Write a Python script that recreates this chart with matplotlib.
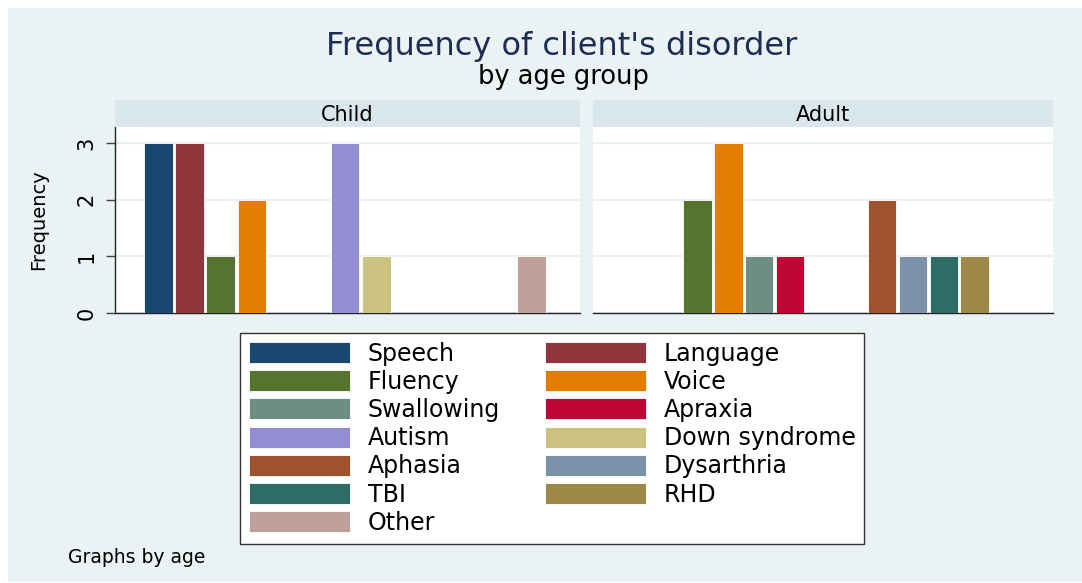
import numpy as np
import matplotlib.pyplot as plt
from matplotlib.patches import Patch, Rectangle

plt.rcParams['font.family'] = ['DejaVu Sans']

# disorder categories, in the order Stata lays out the bars
disorders = ["Speech", "Language", "Fluency", "Voice", "Swallowing", "Apraxia",
             "Autism", "Down syndrome", "Aphasia", "Dysarthria", "TBI", "RHD", "Other"]
child_freq = [3, 3, 1, 2, 0, 0, 3, 1, 0, 0, 0, 0, 1]
adult_freq = [0, 0, 2, 3, 1, 1, 0, 0, 2, 1, 1, 1, 0]
groups = ["Child", "Adult"]

# Stata s2color palette
colors = ["#1a476f", "#90353b", "#55752f", "#e37e00", "#6e8e84", "#c10534",
          "#938dd2", "#cac27e", "#a0522d", "#7b92a8", "#2d6d66", "#9c8847", "#bfa19c"]

bg = "#eaf2f3"
strip_col = "#d9e6eb"
W, H = 1082, 583

fig = plt.figure(figsize=(10.82, 5.83), dpi=100, facecolor="white")
# graph region background (white margin at top/left like the export)
fig.patches.append(Rectangle((8 / W, 1 / H), 1 - 8 / W, 1 - 9 / H, transform=fig.transFigure,
                             facecolor=bg, edgecolor="none", zorder=-10))

panels = [(115, 580), (593, 1053)]
y_bot, y_top, strip_top = 313, 127, 100

x = np.arange(len(disorders))
for i, (grp, vals) in enumerate(zip(groups, [child_freq, adult_freq])):
    x0, x1 = panels[i]
    ax = fig.add_axes([x0 / W, 1 - y_bot / H, (x1 - x0) / W, (y_bot - y_top) / H])
    ax.set_facecolor("white")
    vals = np.array(vals)
    keep = vals > 0
    ax.bar(x[keep], vals[keep], width=0.92, color=np.array(colors)[keep],
           edgecolor="white", linewidth=0.6, zorder=3)
    ax.set_xlim(-1.4, 13.55)
    ax.set_ylim(0, 3.28)
    ax.set_yticks([0, 1, 2, 3])
    ax.grid(axis="y", color=bg, linewidth=1.6, zorder=1)
    ax.set_xticks([])
    for s in ["top", "right"]:
        ax.spines[s].set_visible(False)
    ax.spines["bottom"].set_color("#222222")
    ax.spines["bottom"].set_linewidth(1.0)
    if i == 0:
        ax.spines["left"].set_color("#222222")
        ax.spines["left"].set_linewidth(1.0)
        ax.tick_params(axis="y", length=6.5, width=1, color="#444444", labelsize=15, pad=7)
        for lab in ax.get_yticklabels():
            lab.set_rotation(90)
            lab.set_va("center")
        ax.set_ylabel("Frequency", fontsize=14)
        ax.yaxis.set_label_coords((48 - x0) / (x1 - x0), 0.5)
    else:
        ax.spines["left"].set_visible(False)
        ax.tick_params(axis="y", length=0, labelleft=False)

    # strip header
    sax = fig.add_axes([x0 / W, 1 - y_top / H, (x1 - x0) / W, (y_top - strip_top) / H])
    sax.set_facecolor(strip_col)
    sax.set_xticks([])
    sax.set_yticks([])
    for s in sax.spines.values():
        s.set_visible(False)
    fig.text((x0 + x1) / 2 / W, 1 - 121 / H, grp, ha="center", va="baseline", fontsize=15)

fig.text(562 / W, 1 - 55.5 / H, "Frequency of client's disorder", ha="center", va="baseline",
         fontsize=23, color="#1e2d53")
fig.text(563 / W, 1 - 84 / H, "by age group", ha="center", va="baseline", fontsize=18.5)
fig.text(68 / W, 1 - 563 / H, "Graphs by age", ha="left", va="baseline", fontsize=13.5)

# legend laid out row-wise like Stata (two columns)
handles = [Patch(facecolor=c, edgecolor="white", linewidth=0.6) for c in colors]
order = list(range(0, 13, 2)) + list(range(1, 13, 2))
leg = fig.legend([handles[k] for k in order], [disorders[k] for k in order],
                 ncol=2, loc="upper left", bbox_to_anchor=(240 / W, 1 - 333 / H),
                 fontsize=17, frameon=True, fancybox=False, framealpha=1,
                 handlelength=4.28, handleheight=1.0, handletextpad=0.76,
                 columnspacing=1.9, labelspacing=0.18, borderpad=0.36,
                 borderaxespad=0)
leg.get_frame().set_edgecolor("#333333")
leg.get_frame().set_linewidth(1.0)

fig.savefig("out.png", dpi=100, facecolor="white")
